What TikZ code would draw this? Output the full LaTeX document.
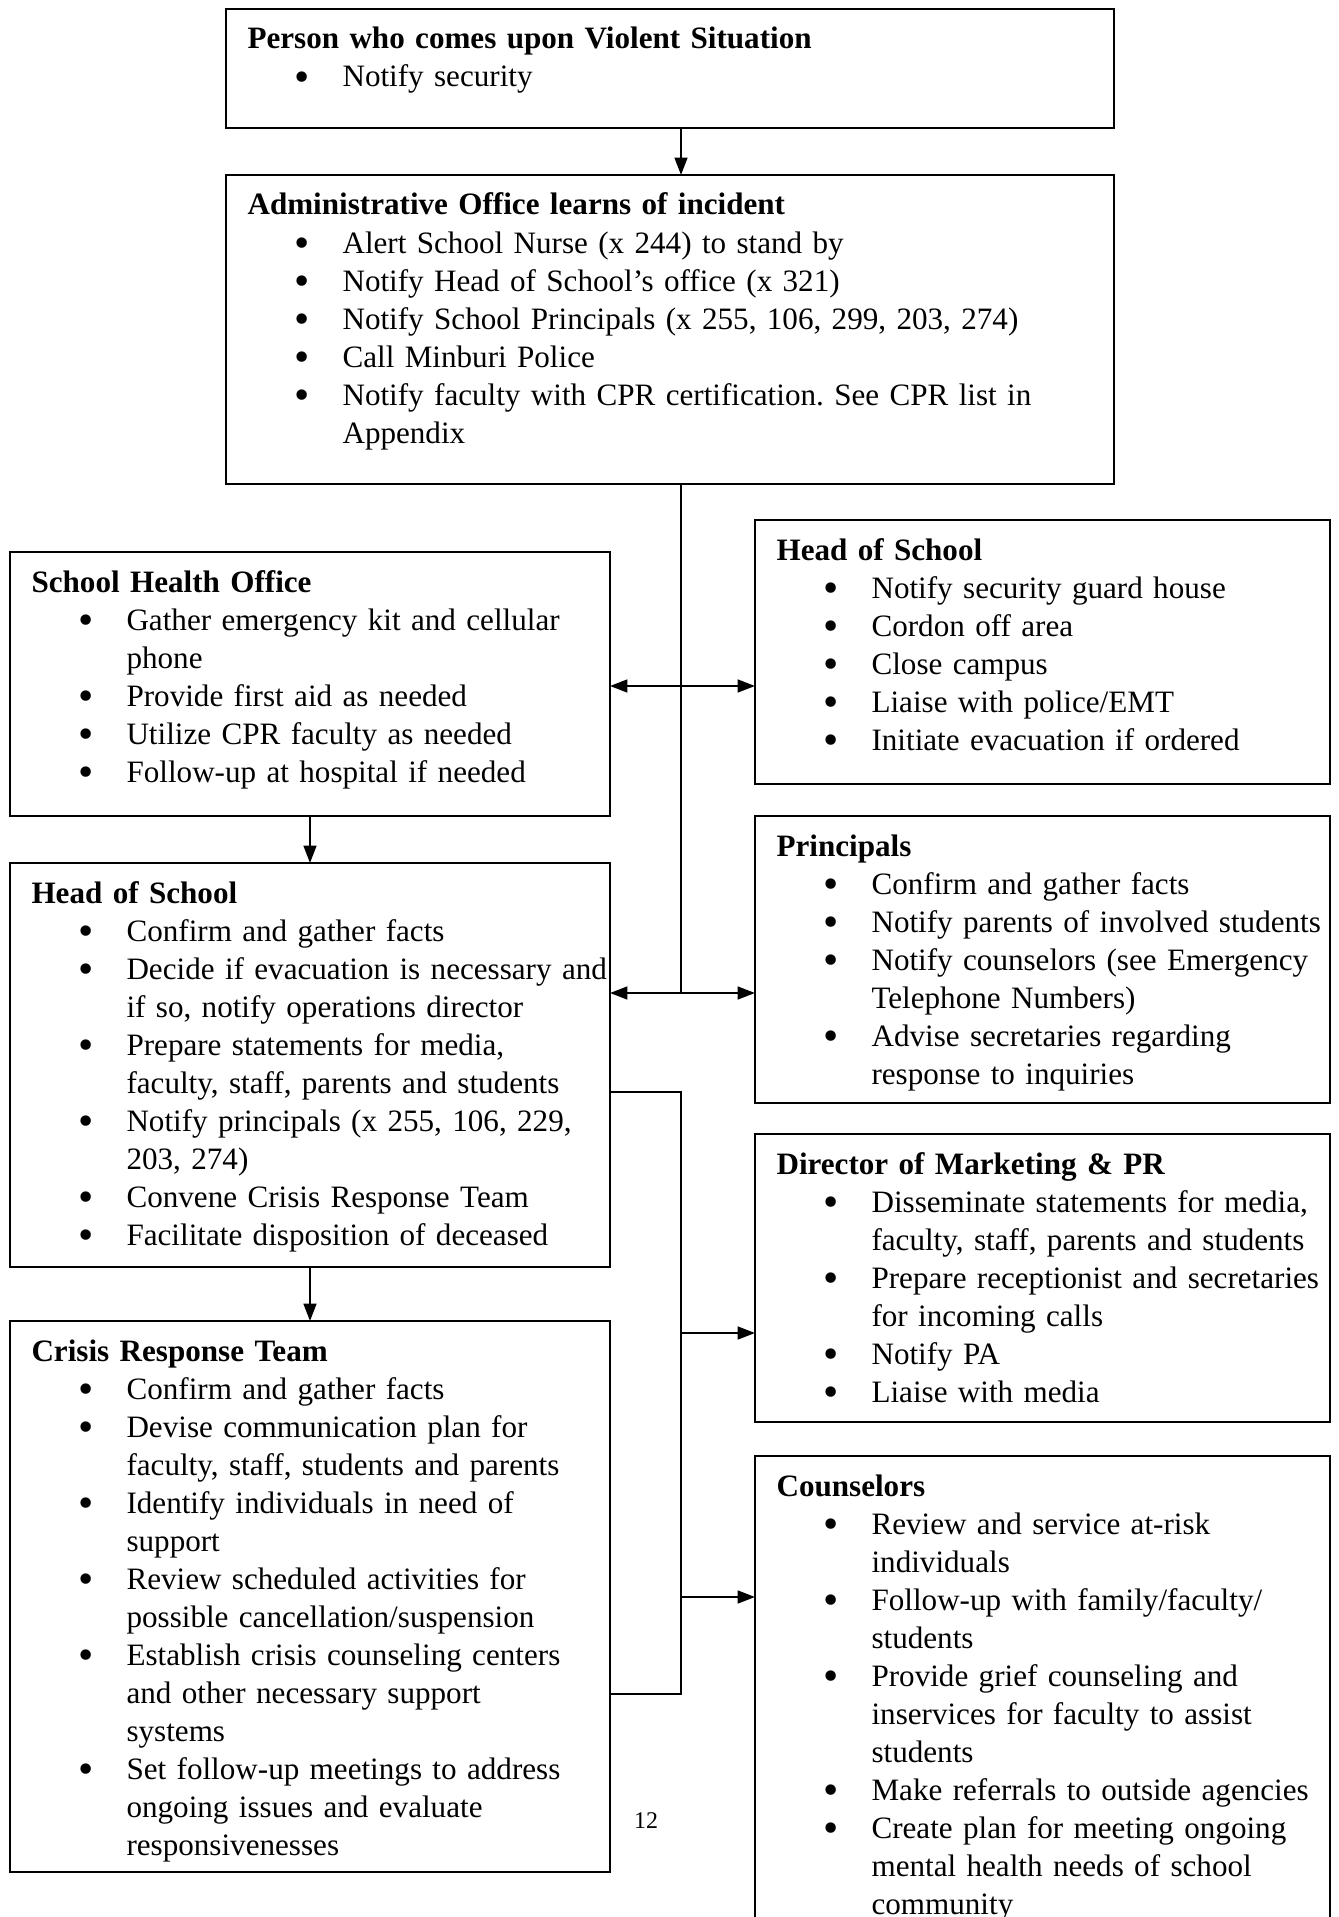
\documentclass[tikz,border=0pt]{standalone}
\usepackage{fontspec}
\setmainfont{Liberation Serif}
\usetikzlibrary{arrows.meta,calc}
\newlength\pxu
\setlength\pxu{0.376pt}
\newcommand{\bi}{\\\hspace*{55\pxu}\makebox[0pt]{\raisebox{-0.13em}{\scalebox{1.4}{\textbullet}}}\hspace*{40\pxu}}
\newcommand{\cl}{\\\hspace*{95\pxu}}
\newcommand{\flowbox}[6]{%
  \node[boxshape, minimum width=#4*0.376pt, minimum height=#5*0.376pt] (#1) at (#2,#3) {};
  \node[boxtext] (#1-t) at ($(#1.north west)+(21,40)$) {#6};}
\tikzset{
  boxshape/.style={draw, line width=0.85pt, inner sep=0pt, outer sep=0pt, anchor=north west},
  boxtext/.style={anchor=base west, inner sep=0pt, text width=1000*0.376pt, align=left,
                  font=\fontsize{11.7pt}{14.29pt}\selectfont\frenchspacing},
  conn/.style={line width=0.75pt},
  arr/.style={conn, -{Triangle[length=6.5pt,width=4.8pt]}},
  dbl/.style={conn, {Triangle[length=6.5pt,width=4.8pt]}-{Triangle[length=6.5pt,width=4.8pt]}}
}
\begin{document}
\begin{tikzpicture}[x=0.376pt, y=-0.376pt]
\useasboundingbox (0,0) rectangle (1338,1917);
\clip (0,0) rectangle (1338,1917);
\fill[white] (0,0) rectangle (1338,1917);

\flowbox{top}{226}{9}{888}{119}{\textbf{Person who comes upon Violent Situation}\bi Notify security}
\flowbox{admin}{226}{175}{888}{309}{\textbf{Administrative Office learns of incident}%
 \bi Alert School Nurse (x 244) to stand by%
 \bi Notify Head of School’s office (x 321)%
 \bi Notify School Principals (x 255, 106, 299, 203, 274)%
 \bi Call Minburi Police%
 \bi Notify faculty with CPR certification. See CPR list in\cl Appendix}
\flowbox{sho}{10}{552}{600}{264}{\textbf{School Health Office}%
 \bi Gather emergency kit and cellular\cl phone%
 \bi Provide first aid as needed%
 \bi Utilize CPR faculty as needed%
 \bi Follow-up at hospital if needed}
\flowbox{hosr}{755}{520}{575}{264}{\textbf{Head of School}%
 \bi Notify security guard house%
 \bi Cordon off area%
 \bi Close campus%
 \bi Liaise with police/EMT%
 \bi Initiate evacuation if ordered}
\flowbox{hosl}{10}{863}{600}{404}{\textbf{Head of School}%
 \bi Confirm and gather facts%
 \bi Decide if evacuation is necessary and\cl if so, notify operations director%
 \bi Prepare statements for media,\cl faculty, staff, parents and students%
 \bi Notify principals (x 255, 106, 229,\cl 203, 274)%
 \bi Convene Crisis Response Team%
 \bi Facilitate disposition of deceased}
\flowbox{prin}{755}{816}{575}{287}{\textbf{Principals}%
 \bi Confirm and gather facts%
 \bi Notify parents of involved students%
 \bi Notify counselors (see Emergency\cl Telephone Numbers)%
 \bi Advise secretaries regarding\cl response to inquiries}
\flowbox{dir}{755}{1134}{575}{288}{\textbf{Director of Marketing \& PR}%
 \bi Disseminate statements for media,\cl faculty, staff, parents and students%
 \bi Prepare receptionist and secretaries\cl for incoming calls%
 \bi Notify PA%
 \bi Liaise with media}
\flowbox{crisis}{10}{1321}{600}{551}{\textbf{Crisis Response Team}%
 \bi Confirm and gather facts%
 \bi Devise communication plan for\cl faculty, staff, students and parents%
 \bi Identify individuals in need of\cl support%
 \bi Review scheduled activities for\cl possible cancellation/suspension%
 \bi Establish crisis counseling centers\cl and other necessary support\cl systems%
 \bi Set follow-up meetings to address\cl ongoing issues and evaluate\cl responsivenesses}
\flowbox{couns}{755}{1456}{575}{500}{\textbf{Counselors}%
 \bi Review and service at-risk\cl individuals%
 \bi Follow-up with family/faculty/\cl students%
 \bi Provide grief counseling and\cl inservices for faculty to assist\cl students%
 \bi Make referrals to outside agencies%
 \bi Create plan for meeting ongoing\cl mental health needs of school\cl community}

\node[font=\fontsize{9pt}{10pt}\selectfont, inner sep=0pt] (pg) at (646,1821) {12};

% connectors
\coordinate (tx) at (681,0);
\coordinate (j1) at (681,686);
\coordinate (j2) at (681,993);
\coordinate (k1) at (681,1092);
\coordinate (k2) at (681,1694);
\coordinate (d1) at (681,1333);
\coordinate (d2) at (681,1597);

\draw[arr] (top.south -| tx) -- (admin.north -| tx);
\draw[conn] (admin.south -| tx) -- (j2);
\draw[dbl] (sho.east |- j1) -- (hosr.west |- j1);
\draw[dbl] (hosl.east |- j2) -- (prin.west |- j2);
\draw[arr] (sho.south) -- (hosl.north);
\draw[arr] (hosl.south) -- (crisis.north);
\draw[conn] (hosl.east |- k1) -- (k1) -- (k2) -- (crisis.east |- k2);
\draw[arr] (d1) -- (dir.west |- d1);
\draw[arr] (d2) -- (couns.west |- d2);
\end{tikzpicture}
\end{document}
